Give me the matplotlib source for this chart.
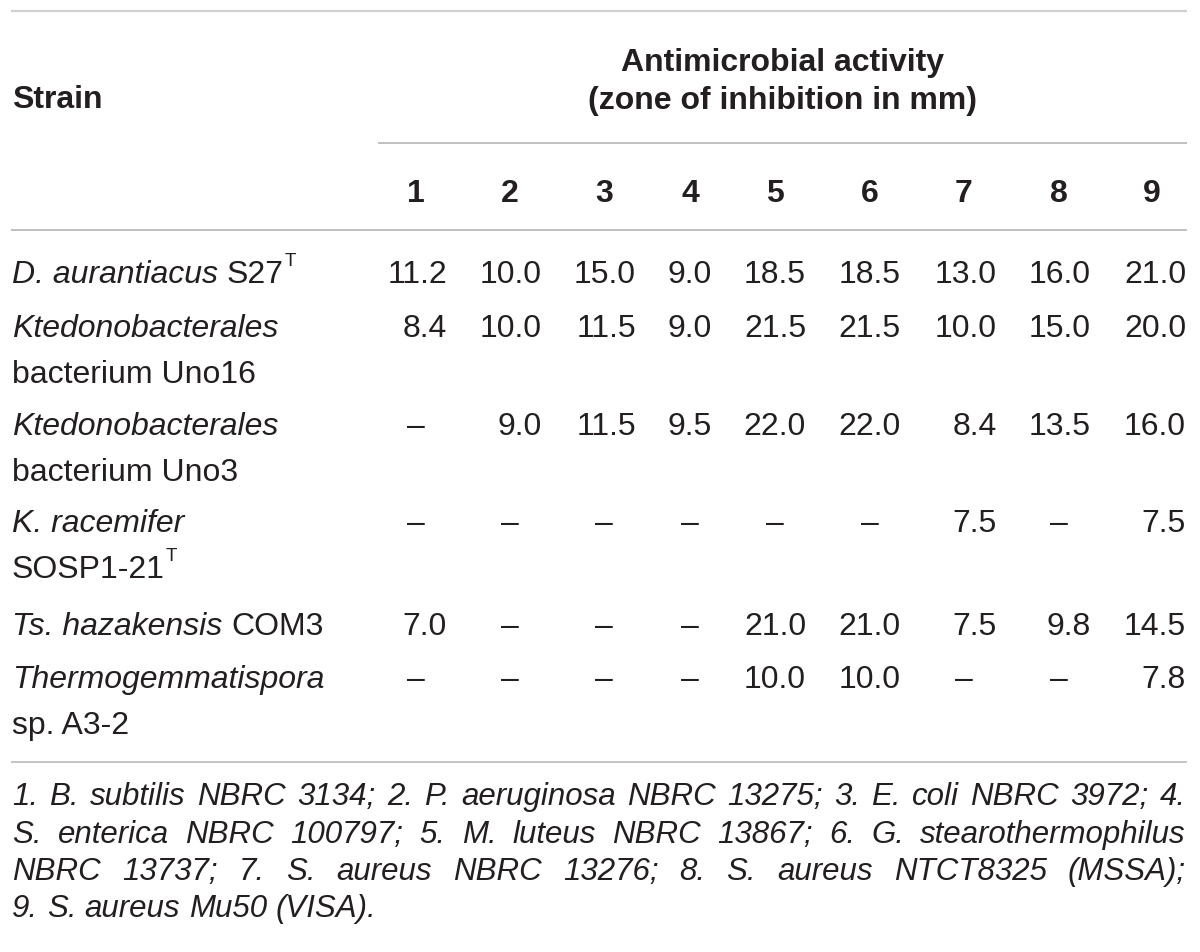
import matplotlib
matplotlib.use("Agg")
import matplotlib.pyplot as plt

# ---------------- data ----------------
col_labels = ["1", "2", "3", "4", "5", "6", "7", "8", "9"]
strain_italic = ["D. aurantiacus", "Ktedonobacterales", "Ktedonobacterales",
                 "K. racemifer", "Ts. hazakensis", "Thermogemmatispora"]
strain_rest = ["S27", "bacterium Uno16", "bacterium Uno3", "SOSP1-21", "COM3", "sp. A3-2"]
rest_on_newline = [False, True, True, True, False, True]
type_strain = [True, False, False, True, False, False]
row1 = [11.2, 10.0, 15.0, 9.0, 18.5, 18.5, 13.0, 16.0, 21.0]
row2 = [8.4, 10.0, 11.5, 9.0, 21.5, 21.5, 10.0, 15.0, 20.0]
row3 = [None, 9.0, 11.5, 9.5, 22.0, 22.0, 8.4, 13.5, 16.0]
row4 = [None, None, None, None, None, None, 7.5, None, 7.5]
row5 = [7.0, None, None, None, 21.0, 21.0, 7.5, 9.8, 14.5]
row6 = [None, None, None, None, 10.0, 10.0, None, None, 7.8]
values = [row1, row2, row3, row4, row5, row6]
header_title = ["Antimicrobial activity", "(zone of inhibition in mm)"]
strain_header = "Strain"
footnote_lines = [
    "1. B. subtilis NBRC 3134; 2. P. aeruginosa NBRC 13275; 3. E. coli NBRC 3972; 4.",
    "S. enterica NBRC 100797; 5. M. luteus NBRC 13867; 6. G. stearothermophilus",
    "NBRC 13737; 7. S. aureus NBRC 13276; 8. S. aureus NTCT8325 (MSSA);",
    "9. S. aureus Mu50 (VISA).",
]

# ---------------- layout ----------------
plt.rcParams["font.family"] = ["Liberation Sans", "DejaVu Sans"]
TXT = "#231f20"
FS = 23
FS_FOOT = 22.5
FS_SUP = 13.5

col_centers = [416, 510, 604, 690, 775, 870, 964, 1059, 1152]
col_rights = [447, 542, 636, 712, 806, 901, 997, 1091, 1186]
row_base = [283, 337, 435, 532, 635, 688]
second_line_gap = 46
LEFT = 12
RIGHT = 1186

fig = plt.figure(figsize=(12, 9.53), dpi=100)
ax = fig.add_axes([0, 0, 1, 1])
ax.set_xlim(0, 1200)
ax.set_ylim(953, 0)
ax.axis("off")
renderer = fig.canvas.get_renderer()


def text_width(s, **kw):
    t = ax.text(0, 0, s, **kw)
    w = t.get_window_extent(renderer).width
    t.remove()
    return w


def space_width(**kw):
    return text_width("x x", **kw) - text_width("xx", **kw)


# rules
ax.plot([11, 1187], [12, 12], color="#cfcfcf", lw=1.6, solid_capstyle="butt")
ax.plot([378, 1187], [144, 144], color="#b5b5b5", lw=1.2, solid_capstyle="butt")
ax.plot([11, 1187], [231, 231], color="#b5b5b5", lw=1.2, solid_capstyle="butt")
ax.plot([11, 1187], [763, 763], color="#c4c4c4", lw=1.4, solid_capstyle="butt")

# headers
ax.text(LEFT, 108.5, strain_header, fontsize=FS, fontweight="bold", color=TXT,
        ha="left", va="baseline")
hx = (378 + 1187) / 2
ax.text(hx, 70.5, header_title[0], fontsize=FS, fontweight="bold", color=TXT,
        ha="center", va="baseline")
ax.text(hx, 109, header_title[1], fontsize=FS, fontweight="bold", color=TXT,
        ha="center", va="baseline")
for c, lab in zip(col_centers, col_labels):
    ax.text(c, 202, lab, fontsize=FS, fontweight="bold", color=TXT,
            ha="center", va="baseline")

# strain names
sp_i = space_width(fontsize=FS, style="italic")
for i in range(len(strain_italic)):
    yb = row_base[i]
    ax.text(LEFT, yb, strain_italic[i], fontsize=FS, style="italic", color=TXT,
            ha="left", va="baseline")
    if rest_on_newline[i]:
        x = LEFT
        y2 = yb + second_line_gap
    else:
        x = LEFT + text_width(strain_italic[i], fontsize=FS, style="italic") + sp_i
        y2 = yb
    ax.text(x, y2, strain_rest[i], fontsize=FS, color=TXT, ha="left", va="baseline")
    if type_strain[i]:
        xs = x + text_width(strain_rest[i], fontsize=FS) + 1
        ax.text(xs, y2 - 17, "T", fontsize=FS_SUP, color=TXT, ha="left", va="baseline")

# values
for i, row in enumerate(values):
    yb = row_base[i]
    for j, v in enumerate(row):
        if v is None:
            ax.text(col_centers[j], yb, "\u2013", fontsize=FS, color=TXT,
                    ha="center", va="baseline")
        else:
            ax.text(col_rights[j], yb, f"{v:.1f}", fontsize=FS, color=TXT,
                    ha="right", va="baseline")

# footnote (justified)
foot_base = [805, 843, 880, 917]
fkw = dict(fontsize=FS_FOOT, style="italic", color=TXT)
fsp = space_width(**fkw)
for k, line in enumerate(footnote_lines):
    words = line.split(" ")
    ws = [text_width(w, **fkw) for w in words]
    if k < len(footnote_lines) - 1 and len(words) > 1:
        gap = (RIGHT - LEFT - sum(ws)) / (len(words) - 1)
    else:
        gap = fsp
    x = LEFT
    for w, wd in zip(words, ws):
        ax.text(x, foot_base[k], w, ha="left", va="baseline", **fkw)
        x += wd + gap

fig.savefig("out.png", dpi=100)
